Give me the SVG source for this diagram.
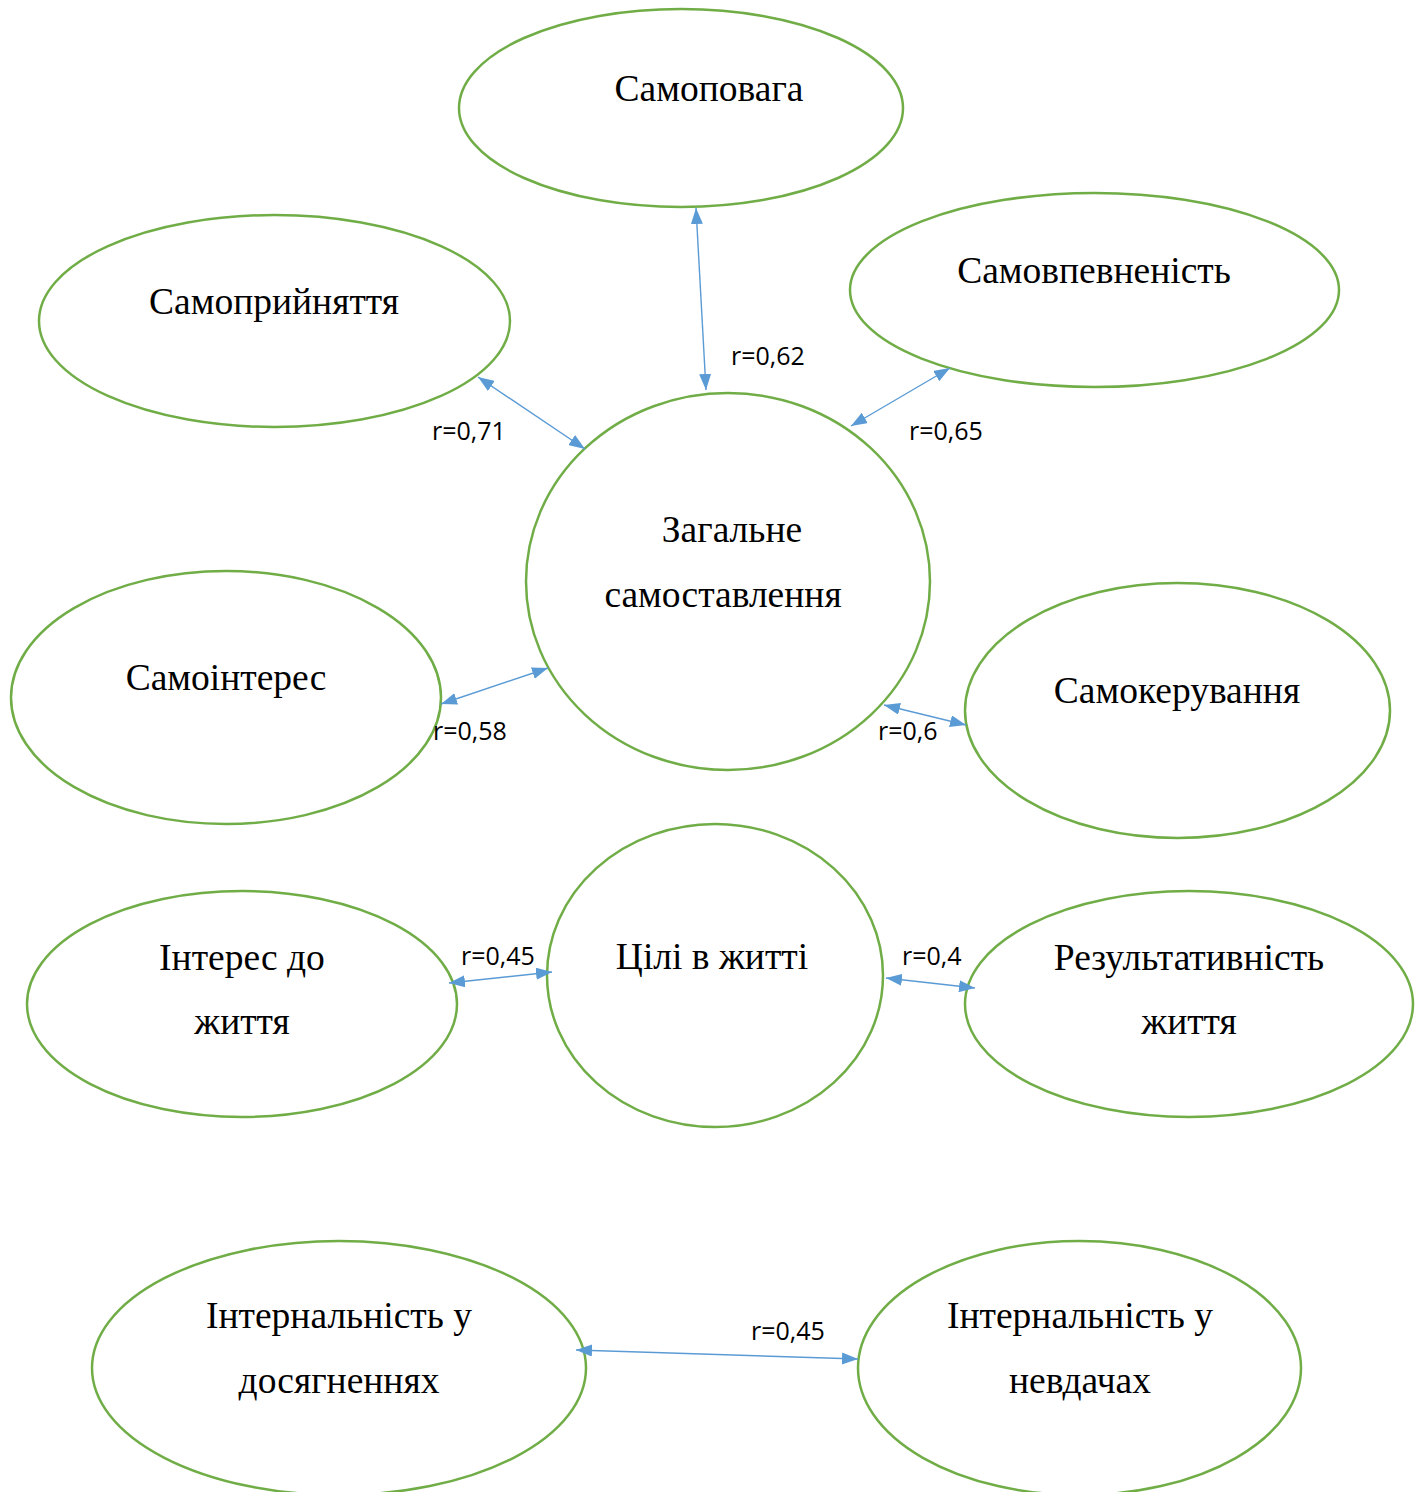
<svg xmlns="http://www.w3.org/2000/svg" width="1421" height="1492" viewBox="0 0 1421 1492">
<defs>
<marker id="ah" viewBox="0 0 16 12" refX="16" refY="6" markerWidth="16" markerHeight="12" markerUnits="userSpaceOnUse" orient="auto-start-reverse">
<path d="M0,0 L16,6 L0,12 z" fill="#5B9BD5"/>
</marker>
<style>
.n{fill:#fff;stroke:#70AD47;stroke-width:2.5}
.t{font-family:"Liberation Serif","Times New Roman",serif;font-size:37.5px;fill:#000;text-anchor:middle}
.c{stroke:#5B9BD5;stroke-width:1.4;fill:none;marker-start:url(#ah);marker-end:url(#ah)}
.l{font-family:"Open Sans","Liberation Sans",sans-serif;font-size:25px;fill:#000}
</style>
</defs>
<rect width="1421" height="1492" fill="#fff"/>
<g id="n-samopovaha"><ellipse class="n" cx="681" cy="108" rx="222" ry="99"/><text class="t" x="709" y="101">Самоповага</text></g>
<g id="n-samopryiniattia"><ellipse class="n" cx="274.5" cy="321" rx="235.5" ry="106"/><text class="t" x="274" y="314">Самоприйняття</text></g>
<g id="n-samovpevnenist"><ellipse class="n" cx="1094.5" cy="290" rx="244.5" ry="97"/><text class="t" x="1094" y="283">Самовпевненість</text></g>
<g id="n-zahalne"><ellipse class="n" cx="728" cy="581.5" rx="202" ry="188.5"/><text class="t" x="732" y="542">Загальне</text><text class="t" x="723" y="607">самоставлення</text></g>
<g id="n-samointeres"><ellipse class="n" cx="226" cy="697.5" rx="215" ry="126.5"/><text class="t" x="226" y="690">Самоінтерес</text></g>
<g id="n-samokeruvannia"><ellipse class="n" cx="1177.5" cy="710.5" rx="212.5" ry="127.5"/><text class="t" x="1177" y="703">Самокерування</text></g>
<g id="n-tsili"><ellipse class="n" cx="715" cy="975.5" rx="168" ry="151.5"/><text class="t" x="712" y="969">Цілі в житті</text></g>
<g id="n-interes"><ellipse class="n" cx="242" cy="1004" rx="215" ry="113"/><text class="t" x="242" y="970">Інтерес до</text><text class="t" x="242" y="1034">життя</text></g>
<g id="n-rezultatyvnist"><ellipse class="n" cx="1189" cy="1004" rx="224" ry="113"/><text class="t" x="1189" y="970">Результативність</text><text class="t" x="1189" y="1034">життя</text></g>
<g id="n-int-dosiahnennia"><ellipse class="n" cx="339" cy="1368" rx="247" ry="127"/><text class="t" x="339" y="1328">Інтернальність у</text><text class="t" x="339" y="1393">досягненнях</text></g>
<g id="n-int-nevdachi"><ellipse class="n" cx="1079.5" cy="1368" rx="221.5" ry="127"/><text class="t" x="1080" y="1328">Інтернальність у</text><text class="t" x="1080" y="1393">невдачах</text></g>
<g id="connectors">
<line class="c" x1="696" y1="208" x2="706" y2="390"/>
<line class="c" x1="478" y1="377" x2="585" y2="449"/>
<line class="c" x1="950" y1="368" x2="851" y2="426"/>
<line class="c" x1="441" y1="704" x2="548" y2="668"/>
<line class="c" x1="884" y1="705" x2="966" y2="725"/>
<line class="c" x1="449" y1="983" x2="552" y2="972"/>
<line class="c" x1="886" y1="978" x2="975" y2="988"/>
<line class="c" x1="576" y1="1350" x2="858" y2="1359"/>
</g>
<g id="labels">
<text class="l" x="731" y="365">r=0,62</text>
<text class="l" x="432" y="440">r=0,71</text>
<text class="l" x="909" y="440">r=0,65</text>
<text class="l" x="433" y="740">r=0,58</text>
<text class="l" x="878" y="740">r=0,6</text>
<text class="l" x="461" y="965">r=0,45</text>
<text class="l" x="902" y="965">r=0,4</text>
<text class="l" x="751" y="1340">r=0,45</text>
</g>
</svg>
